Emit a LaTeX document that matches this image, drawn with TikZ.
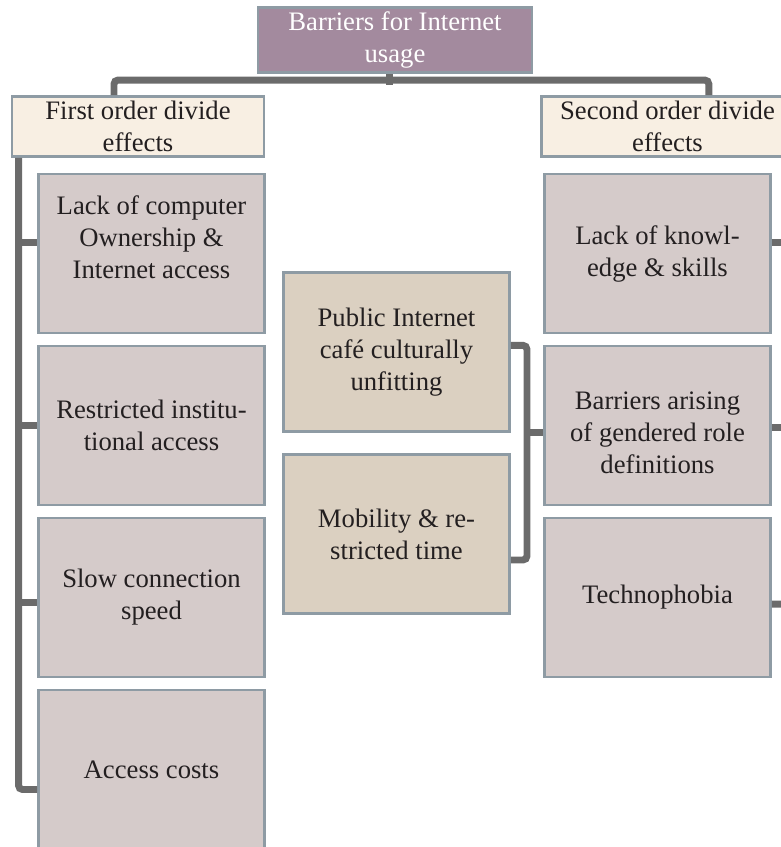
\documentclass[tikz,border=0pt]{standalone}
\usepackage{fontspec}
\setmainfont{Liberation Serif}
\usetikzlibrary{positioning}
\usetikzlibrary{calc}

\definecolor{topfill}{HTML}{A38A9E}
\definecolor{headfill}{HTML}{F8EFE3}
\definecolor{itemfill}{HTML}{D5CBCA}
\definecolor{midfill}{HTML}{DBD0C1}
\definecolor{edgegrey}{HTML}{8E9BA4}
\definecolor{linegrey}{HTML}{6B6B6B}
\definecolor{ink}{HTML}{231F20}

\begin{document}
\begin{tikzpicture}[x=0.75pt, y=-0.75pt,
  every node/.style={font=\fontsize{20}{24}\selectfont, align=center, text=ink, draw=edgegrey, line width=2.2pt},
  topbox/.style={fill=topfill, text=white, minimum width=205.5pt, minimum height=42.75pt},
  headbox/.style={fill=headfill, minimum width=189pt, minimum height=45pt},
  itembox/.style={fill=itemfill, minimum width=169.5pt, minimum height=119.25pt},
  midbox/.style={itembox, fill=midfill},
  conn/.style={draw=linegrey, line width=5.2pt, rounded corners=3pt}]
\useasboundingbox (0,0) rectangle (781,847);
\clip (0,0) rectangle (781,847);

\node[topbox] (top) at (395,40) {Barriers for Internet\\usage};
\node[headbox] (first) at (138,126.5) {First order divide\\effects};
\node[headbox] (second) at (667.5,126.5) {Second order divide\\effects};

% first order effects
\node[itembox] (lc1) at (151.5,253.5) {Lack of computer\\Ownership \&\\Internet access\\\mbox{}};
\node[itembox] (lc2) at (151.5,425.5) {Restricted institu-\\tional access};
\node[itembox] (lc3) at (151.5,597.5) {Slow connection\\speed};
\node[itembox] (lc4) at (151.5,769.5) {Access costs};

% second order effects
\node[itembox] (rc1) at (657.5,253.5) {Lack of knowl-\\edge \& skills};
\node[itembox] (rc2) at (657.5,425.5) {\mbox{}\\Barriers arising\\of gendered role\\definitions};
\node[itembox] (rc3) at (657.5,597.5) {Technophobia};

\node[midbox] (cafe) at (396.5,352) {Public Internet\\café culturally\\unfitting};
\node[midbox] (mobility) at (396.5,534) {Mobility \& re-\\stricted time};

% connectors
\draw[conn] ([xshift=-4pt]top.south) -- ++(0,11);
\draw[conn] ([xshift=-18pt]first.north) -- ++(0,-15) -| ([xshift=31pt]second.north);

\draw[conn] ([xshift=6pt]first.south west) coordinate (lspine) |- ([yshift=-15pt]lc4.west);
\foreach \n/\dy in {lc1/8pt, lc2/0pt, lc3/-4pt}
  \draw[conn] ([yshift=\dy]\n.west) -- ([yshift=\dy]\n.west -| lspine);

\draw[conn] ([xshift=-6pt]second.south east) coordinate (rspine) |- ([yshift=-5pt]rc3.east);
\foreach \n/\dy in {rc1/8pt, rc2/-1.5pt}
  \draw[conn] ([yshift=\dy]\n.east) -- ([yshift=\dy]\n.east -| rspine);

\draw[conn] ([yshift=5pt]cafe.east) -- ++(12pt,0) coordinate (mspine) |- ([yshift=-19.5pt]mobility.east);
\draw[conn] ([yshift=-5pt]rc2.west) -- ([yshift=-5pt]rc2.west -| mspine);
\end{tikzpicture}
\end{document}
